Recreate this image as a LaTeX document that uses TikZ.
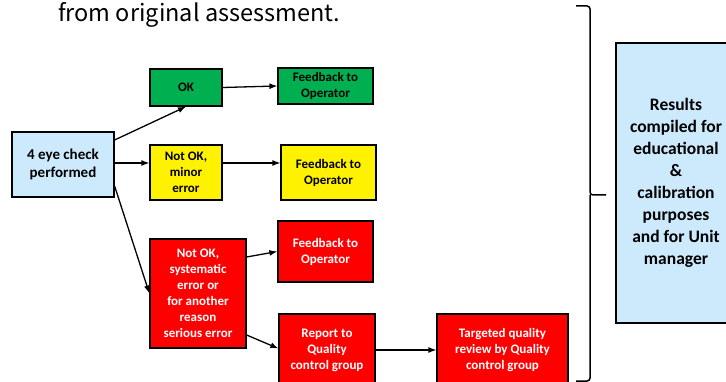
\documentclass[tikz,border=0pt]{standalone}
\usepackage{fontspec}
\usetikzlibrary{arrows.meta}
\setmainfont{Carlito}
\newfontfamily\jpfont{Noto Sans CJK JP}
\definecolor{okgreen}{RGB}{0,176,80}
\definecolor{checkblue}{RGB}{204,234,252}

\begin{document}
\begin{tikzpicture}[x=1pt, y=-1pt, >={Latex[length=8pt,width=6pt]},
    box/.style={draw=black, line width=1.2pt, align=center, inner sep=0pt,
                font=\bfseries\fontsize{13}{16}\selectfont},
    greenbox/.style={box, fill=okgreen},
    yellowbox/.style={box, fill=yellow},
    redbox/.style={box, fill=red, text=white},
    bluebox/.style={box, fill=checkblue},
    arr/.style={->, line width=1.3pt}]

    \useasboundingbox (0,0) rectangle (726,382);
    \clip (0,0) rectangle (726,382);

    %title line
    \node[anchor=base west, inner sep=0pt, font=\jpfont\fontsize{23.5}{28}\selectfont] (title) at (58,22) {from original assessment.};

    %check
    \node[bluebox, minimum width=102, minimum height=65, font=\bfseries\fontsize{15}{18}\selectfont] (check) at (63,164.5) {4 eye check\\performed};

    %ok
    \node[greenbox, minimum width=72, minimum height=37] (ok) at (186,87.5) {OK};
    \node[greenbox, minimum width=95, minimum height=36] (fbok) at (325.5,86) {Feedback to\\Operator};

    %minor
    \node[yellowbox, minimum width=72, minimum height=55] (minor) at (186,172.5) {Not OK,\\minor\\error};
    \node[yellowbox, minimum width=95, minimum height=55] (fbminor) at (328.5,172.5) {Feedback to\\Operator};

    %serious
    \node[redbox, minimum width=96, minimum height=109] (serious) at (198,293.5) {Not OK,\\systematic\\error or\\for another\\reason\\serious error};
    \node[redbox, minimum width=95, minimum height=61] (fbserious) at (325.5,251.5) {Feedback to\\Operator};
    \node[redbox, minimum width=96, minimum height=72] (report) at (327,350) {Report to\\Quality\\control group};
    \node[redbox, minimum width=131, minimum height=72] (review) at (502.5,350) {Targeted quality\\review by Quality\\control group};

    %results
    \node[bluebox, minimum width=120, minimum height=280, font=\bfseries\fontsize{17.5}{22}\selectfont] (results) at (676,183) {Results\\compiled for\\educational\\\&\\calibration\\purposes\\and for Unit\\manager};

    %arrows
    \draw[arr] ([yshift=24.5pt]check.east) -- (ok.south);
    \draw[arr] ([yshift=1.5pt]check.east) -- ([yshift=9.5pt]minor.west);
    \draw[arr] ([yshift=-21.5pt]check.east) -- (serious.west);
    \draw[arr] (ok.east) -- (fbok.west);
    \draw[arr] ([yshift=9.5pt]minor.east) -- ([yshift=9.5pt]fbminor.west);
    \draw[arr] ([yshift=36.5pt]serious.east) -- (fbserious.west);
    \draw[arr] ([yshift=-41.5pt]serious.east) -- ([yshift=1.5pt]report.west);
    \draw[arr] (report.east) -- (review.west);

    %brace
    \draw[line width=1.5pt, rounded corners=3pt] (576,6) -- (590,6) -- (590,195) -- (606,195);
    \draw[line width=1.5pt, rounded corners=3pt] (576,381) -- (590,381) -- (590,195);
\end{tikzpicture}
\end{document}
